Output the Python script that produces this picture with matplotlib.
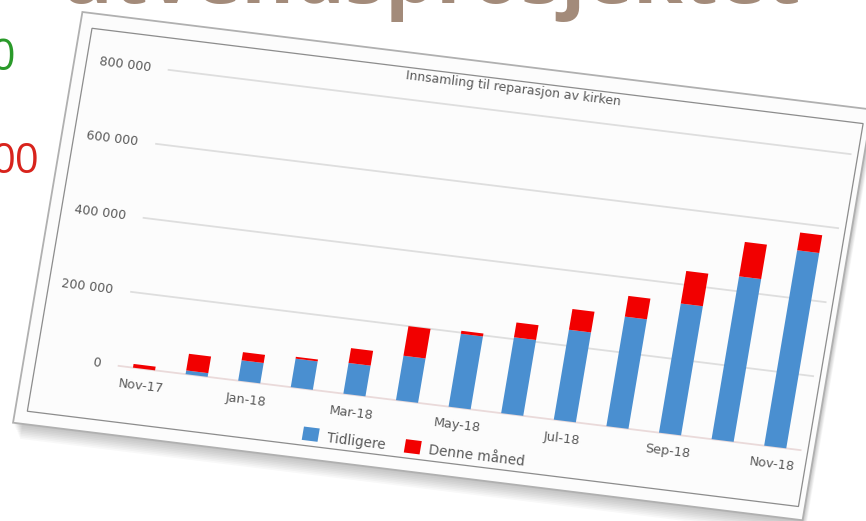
import numpy as np
import matplotlib
matplotlib.use("Agg")
import matplotlib.pyplot as plt
from matplotlib.transforms import Affine2D
from matplotlib.patches import Rectangle

# ---------------- data ----------------
months = ["Nov-17", "Dec-17", "Jan-18", "Feb-18", "Mar-18", "Apr-18", "May-18",
          "Jun-18", "Jul-18", "Aug-18", "Sep-18", "Oct-18", "Nov-18"]
tidligere = [0, 10000, 55000, 77000, 83000, 120000, 197000, 205000,
             243000, 296000, 349000, 440000, 528000]
denne_maned = [10000, 45000, 22000, 5000, 40000, 80000, 8000, 40000,
               56000, 56000, 88000, 93000, 48000]
y_ticks = [0, 200000, 400000, 600000, 800000]
y_tick_labels = ["0", "200 000", "400 000", "600 000", "800 000"]
x_label_every = 2
title = "Innsamling til reparasjon av kirken"
legend_labels = ["Tidligere", "Denne måned"]

BLUE = "#4a8fd0"
RED = "#f20000"
GRID = "#dedede"
TXT = "#5a5a5a"

fig = plt.figure(figsize=(8.66, 5.21), dpi=100)
fig.patch.set_facecolor("white")
ax = fig.add_axes([0, 0, 1, 1])
ax.set_axis_off()
ax.set_autoscale_on(False)
ax.set_xlim(0, 866)
ax.set_ylim(521, 0)

# tilted chart frame: (month index, value) -> slide pixels
M = np.array([[52.6, 12.5 / 2e5, 144.0],
              [6.5, -74.0 / 2e5, 369.0],
              [0.0, 0.0, 1.0]])
chart = Affine2D(M) + ax.transData
ROT = -7.0

# ---- slide background text (partly cut off at the edges, as in the photo) ----
ax.text(60, 3, "utvendsprosjektet", fontsize=58, color="#a38b7a",
        family="Open Sans", weight="bold", ha="left", va="baseline", zorder=0)
ax.text(15, 59, "0", fontsize=31, color="#2a9a2a", family="Open Sans",
        ha="right", va="center", zorder=0)
ax.text(40, 162, "00", fontsize=30, color="#d8231c", family="Open Sans",
        ha="right", va="center", zorder=0)

# ---- card, shadow, frame ----
u0, u1 = -2.27, 12.74
v0, v1 = -185000, 925000
for i in range(10):
    ax.add_patch(Rectangle((u0 + 0.02 * i, v0 - 4500 * i), (u1 - u0) - 0.01 * i,
                           (v1 - v0), transform=chart, facecolor="black",
                           edgecolor="none", alpha=0.028, zorder=1))
ax.add_patch(Rectangle((u0, v0), u1 - u0, v1 - v0, transform=chart,
                       facecolor="#fcfcfc", edgecolor="#b0b0b0", lw=1.3, zorder=2))
ax.add_patch(Rectangle((-2.04, -150000), 12.62 + 2.04, 885000 + 150000,
                       transform=chart, facecolor="none", edgecolor="#8c8c8c",
                       lw=0.9, zorder=3))

# ---- gridlines ----
for v in y_ticks:
    ax.plot([-0.5, 12.5], [v, v], transform=chart, color=GRID if v else "#eadada",
            lw=1.3, zorder=3, solid_capstyle="butt")

# ---- bars ----
x = np.arange(len(months))
ax.bar(x, tidligere, width=0.42, color=BLUE, transform=chart, zorder=4)
ax.bar(x, denne_maned, bottom=tidligere, width=0.42, color=RED,
       transform=chart, zorder=4)

# ---- tick labels ----
for v, lab in zip(y_ticks, y_tick_labels):
    ax.text(-0.82, v, lab, transform=chart, rotation=ROT, rotation_mode="anchor",
            ha="right", va="center", fontsize=9, color=TXT, zorder=5)
for i in range(0, len(months), x_label_every):
    ax.text(x[i], -48000, months[i], transform=chart, rotation=ROT,
            rotation_mode="anchor", ha="center", va="center", fontsize=9.3,
            color=TXT, zorder=5)

# ---- title ----
ax.text(6.0, 862000, title, transform=chart, rotation=ROT, rotation_mode="anchor",
        ha="center", va="center", fontsize=9, color=TXT, zorder=5)

# ---- legend ----
for (uc, ut), col, lab in zip([(3.31, 3.63), (5.25, 5.56)], [BLUE, RED], legend_labels):
    ax.add_patch(Rectangle((uc - 0.15, -136000), 0.3, 36000, transform=chart,
                           facecolor=col, edgecolor="none", zorder=5))
    ax.text(ut, -122000, lab, transform=chart, rotation=ROT, rotation_mode="anchor",
            ha="left", va="center", fontsize=9.8, color=TXT, zorder=5)

fig.savefig("out.png", dpi=100, facecolor="white")
